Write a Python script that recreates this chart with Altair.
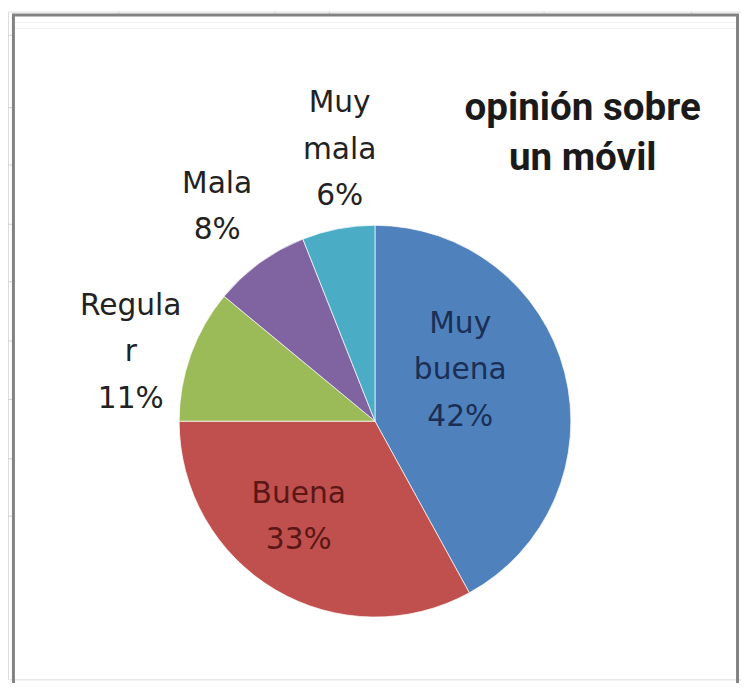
import altair as alt
import pandas as pd

# ---- data ----
categories = ["Muy buena", "Buena", "Regular", "Mala", "Muy mala"]
values = [42, 33, 11, 8, 6]
label_names = ["Muy\nbuena", "Buena", "Regula\nr", "Mala", "Muy\nmala"]
colors = ["#4F81BD", "#C0504D", "#9BBB59", "#8064A2", "#4BACC6"]
title_text = "opinión sobre\nun móvil"

df = pd.DataFrame({
    "idx": list(range(len(categories))),
    "cat": categories,
    "value": values,
    "label": [f"{n}\n{v}%" for n, v in zip(label_names, values)],
})

W, H = 741, 675
CX, CY, R = 371, 414, 198

base = alt.Chart(df)

pie = base.mark_arc(outerRadius=R, stroke="#ffffff", strokeWidth=1, strokeOpacity=0.7).encode(
    theta=alt.Theta("value:Q", stack=True),
    color=alt.Color("cat:N", scale=alt.Scale(domain=categories, range=colors), legend=None),
    order=alt.Order("idx:Q"),
    x=alt.value(CX),
    y=alt.value(CY),
)

lab_base = base.transform_window(
    cum="sum(value)", sort=[alt.SortField("idx")]
).transform_joinaggregate(
    total="sum(value)"
).transform_calculate(
    mid="2*PI*(datum.cum - datum.value/2)/datum.total"
)

# per-label style: (radius, dx, dy, color)
label_style = {
    "Muy buena": (90, -1, -76, "#1b2f55"),
    "Buena": (120, -16, -30, "#5a1716"),
    "Regular": (255, -7, -30, "#222222"),
    "Mala": (268, -2, -23, "#222222"),
    "Muy mala": (276, 16, -50, "#222222"),
}

label_layers = []
for cat in categories:
    r, dx, dy, col = label_style[cat]
    label_layers.append(
        lab_base.transform_filter(alt.datum.cat == cat).mark_text(
            font="DejaVu Sans", fontSize=30, lineBreak="\n", lineHeight=47,
            align="center", baseline="middle", dx=dx, dy=dy, color=col,
        ).encode(
            theta=alt.Theta("mid:Q", scale=None),
            radius=alt.value(r),
            x=alt.value(CX),
            y=alt.value(CY),
            text="label:N",
        )
    )

one = alt.Chart(pd.DataFrame({"a": [0]}))

title = one.mark_text(
    font="Roboto", fontSize=39, fontWeight="bold", lineBreak="\n", lineHeight=50,
    align="center", baseline="middle", color="#1a1a1a",
).encode(x=alt.value(581), y=alt.value(98), text=alt.value(title_text))

frame = one.mark_rect(filled=False, stroke="#828282", strokeWidth=3).encode(
    x=alt.value(5.5), x2=alt.value(737.5), y=alt.value(3.5), y2=alt.value(720)
)

inner_lines = [
    one.mark_rule(color="#f0f0f0", strokeWidth=1).encode(
        x=alt.value(7), x2=alt.value(736), y=alt.value(yy)
    ) for yy in (11, 17)
]

grid_left = [
    one.mark_rule(color="#d0d0d0", strokeWidth=1).encode(
        x=alt.value(0), x2=alt.value(4), y=alt.value(yy - 8)
    ) for yy in (32, 105, 163, 223, 281, 341, 400, 460, 518)
]
grid_top = [
    one.mark_rule(color="#d0d0d0", strokeWidth=1).encode(
        x=alt.value(xx - 8), y=alt.value(0), y2=alt.value(2)
    ) for xx in (120, 278, 333, 550, 699)
]

chart = alt.layer(
    *grid_left, *grid_top, *inner_lines, frame, pie, *label_layers, title
).properties(
    width=W, height=H, autosize=alt.AutoSizeParams(type="none"), padding=0,
).configure_view(stroke=None).configure(background="#ffffff")

chart.save("out.html", embed_options={"renderer": "svg", "actions": False})
